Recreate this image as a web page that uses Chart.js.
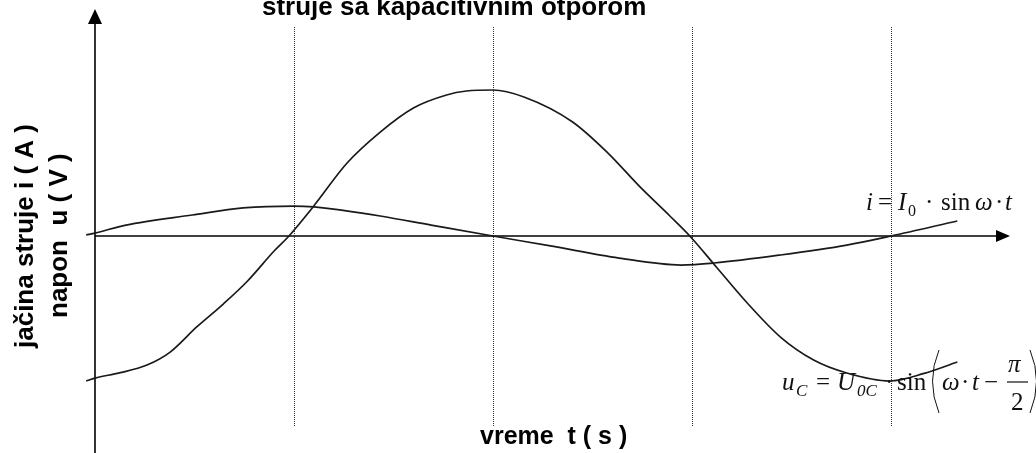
<!DOCTYPE html>
<html>
<head>
<meta charset="utf-8">
<script src="https://cdn.jsdelivr.net/npm/chart.js@4.4.0/dist/chart.umd.min.js"></script>
<style>
  html, body { margin: 0; padding: 0; background: #fff; }
  #wrap { width: 1036px; height: 453px; position: relative; }
</style>
</head>
<body>
<div id="wrap"><canvas id="acChart" width="1036" height="453"></canvas></div>
<script>
// phase angle ωt in degrees and the matching values on a shared vertical scale
const uPhase = [-4, 0, 11, 23.5, 34, 46, 58, 69, 81, 87.3, 98.6, 114, 129, 144, 159, 168, 180, 194, 216, 232,
                246.5, 260, 269, 281, 295, 310, 325, 340, 359.5, 375, 390];
const uValues = [-9.93, -9.73, -9.38, -8.84, -7.95, -6.23, -4.66, -3.08, -1.03, -0.07, 1.99, 5.0, 7.12, 8.77, 9.66, 9.93, 10.0, 9.52, 7.81, 5.68,
                 3.36, 1.37, 0, -2.12, -4.59, -6.92, -8.49, -9.38, -9.93, -9.41, -8.63];

const iPhase = [-4, 0, 14, 44, 67, 90, 99, 120, 129, 152, 180, 206, 237, 265, 280, 310, 340, 360, 390];
const iValues = [0.07, 0.2, 0.75, 1.44, 1.92, 2.05, 1.99, 1.58, 1.37, 0.75, 0, -0.68, -1.51, -1.99, -1.85, -1.30, -0.62, 0, 1.03];

// quarter periods marked with dotted lines
const markPhases = [90, 180, 270, 360];

const W = 1036, H = 453;
const ORIGIN_X = 95, ORIGIN_Y = 236;
const PX_PER_DEG = 199 / 90, PX_PER_UNIT = 14.6;
const X_MIN = -40, X_MAX = 420, Y_MIN = -14.5, Y_MAX = 15;

const toPoints = (xs, ys) => xs.map((x, i) => ({ x: x, y: ys[i] }));

function serif(ctx, str, x, y, size, italic) {
  ctx.font = (italic ? 'italic ' : '') + size + 'px "Liberation Serif", "DejaVu Serif", serif';
  ctx.fillText(str, x, y);
}

const axesPlugin = {
  id: 'axes',
  beforeDatasetsDraw(chart) {
    const { ctx, scales: { x, y } } = chart;
    const x0 = x.getPixelForValue(0), y0 = y.getPixelForValue(0);
    ctx.save();
    ctx.strokeStyle = '#333';
    ctx.lineWidth = 1;
    ctx.setLineDash([1, 1]);
    markPhases.forEach(p => {
      const px = Math.round(x.getPixelForValue(p)) + 0.5;
      ctx.beginPath(); ctx.moveTo(px, 27); ctx.lineTo(px, 427); ctx.stroke();
    });
    ctx.setLineDash([]);

    ctx.strokeStyle = '#000';
    ctx.lineWidth = 1.6;
    ctx.beginPath(); ctx.moveTo(x0, H); ctx.lineTo(x0, 20); ctx.stroke();
    ctx.beginPath(); ctx.moveTo(x0, y0); ctx.lineTo(1000, y0); ctx.stroke();

    ctx.fillStyle = '#000';
    ctx.beginPath(); ctx.moveTo(x0, 9); ctx.lineTo(x0 - 7, 24); ctx.lineTo(x0 + 7, 24); ctx.closePath(); ctx.fill();
    ctx.beginPath(); ctx.moveTo(1010, y0); ctx.lineTo(996, y0 - 6); ctx.lineTo(996, y0 + 6); ctx.closePath(); ctx.fill();
    ctx.restore();
  }
};

const labelsPlugin = {
  id: 'labels',
  afterDatasetsDraw(chart) {
    const ctx = chart.ctx;
    ctx.save();
    ctx.fillStyle = '#000';
    ctx.textBaseline = 'alphabetic';
    ctx.textAlign = 'left';

    ctx.font = 'bold 26px "Liberation Sans", Arial, sans-serif';
    ctx.fillText('struje sa kapacitivnim otporom', 262, 15);

    ctx.font = 'bold 25px "Liberation Sans", Arial, sans-serif';
    ctx.fillText('vreme  t ( s )', 480, 444);

    ctx.font = 'bold 26px "Liberation Sans", Arial, sans-serif';
    ctx.save();
    ctx.translate(33, 348); ctx.rotate(-Math.PI / 2);
    ctx.fillText('jačina struje i ( A )', 0, 0);
    ctx.restore();
    ctx.save();
    ctx.translate(67, 318); ctx.rotate(-Math.PI / 2);
    ctx.fillText('napon  u ( V )', 0, 0);
    ctx.restore();

    // i = I0 · sin ω · t
    ctx.fillStyle = '#111';
    serif(ctx, 'i', 866, 210, 25, true);
    serif(ctx, '=', 878, 210, 25);
    serif(ctx, 'I', 898, 210, 25, true);
    serif(ctx, '0', 908, 216, 16);
    serif(ctx, '·', 925, 210, 25);
    serif(ctx, 'sin', 941, 210, 25);
    serif(ctx, 'ω', 975, 210, 25, true);
    serif(ctx, '·', 995, 210, 25);
    serif(ctx, 't', 1005, 210, 25, true);

    // uC = U0C · sin(ω · t − π/2)
    serif(ctx, 'u', 782, 390, 25, true);
    serif(ctx, 'C', 796, 396, 17, true);
    serif(ctx, '=', 816, 390, 25);
    serif(ctx, 'U', 837, 390, 25, true);
    serif(ctx, '0C', 857, 396, 17, true);
    serif(ctx, '·', 885, 390, 25);
    serif(ctx, 'sin', 897, 390, 25);
    serif(ctx, 'ω', 942, 390, 25, true);
    serif(ctx, '·', 961, 390, 25);
    serif(ctx, 't', 972, 390, 25, true);
    serif(ctx, '−', 984, 390, 25);
    serif(ctx, 'π', 1008, 372, 25, true);
    serif(ctx, '2', 1011, 410, 25);
    ctx.strokeStyle = '#111';
    ctx.lineWidth = 1.2;
    ctx.beginPath(); ctx.moveTo(1007, 382); ctx.lineTo(1028, 382); ctx.stroke();
    ctx.lineWidth = 1;
    ctx.beginPath(); ctx.moveTo(939, 350); ctx.quadraticCurveTo(926, 381, 939, 413); ctx.stroke();
    ctx.beginPath(); ctx.moveTo(1030, 350); ctx.quadraticCurveTo(1043, 381, 1030, 413); ctx.stroke();
    ctx.restore();
  }
};

new Chart(document.getElementById('acChart').getContext('2d'), {
  type: 'line',
  data: {
    datasets: [{
      label: 'u',
      data: toPoints(uPhase, uValues),
      borderColor: '#1a1a1a',
      borderWidth: 1.7,
      cubicInterpolationMode: 'monotone',
      pointRadius: 0,
      fill: false
    }, {
      label: 'i',
      data: toPoints(iPhase, iValues),
      borderColor: '#1a1a1a',
      borderWidth: 1.7,
      cubicInterpolationMode: 'monotone',
      pointRadius: 0,
      fill: false
    }]
  },
  options: {
    responsive: false,
    animation: false,
    events: [],
    layout: {
      padding: {
        left: ORIGIN_X + X_MIN * PX_PER_DEG,
        right: W - (ORIGIN_X + X_MAX * PX_PER_DEG),
        top: ORIGIN_Y - Y_MAX * PX_PER_UNIT,
        bottom: H - (ORIGIN_Y - Y_MIN * PX_PER_UNIT)
      }
    },
    scales: {
      x: { type: 'linear', min: X_MIN, max: X_MAX, display: false },
      y: { type: 'linear', min: Y_MIN, max: Y_MAX, display: false }
    },
    plugins: {
      legend: { display: false },
      tooltip: { enabled: false }
    }
  },
  plugins: [axesPlugin, labelsPlugin]
});
</script>
</body>
</html>
